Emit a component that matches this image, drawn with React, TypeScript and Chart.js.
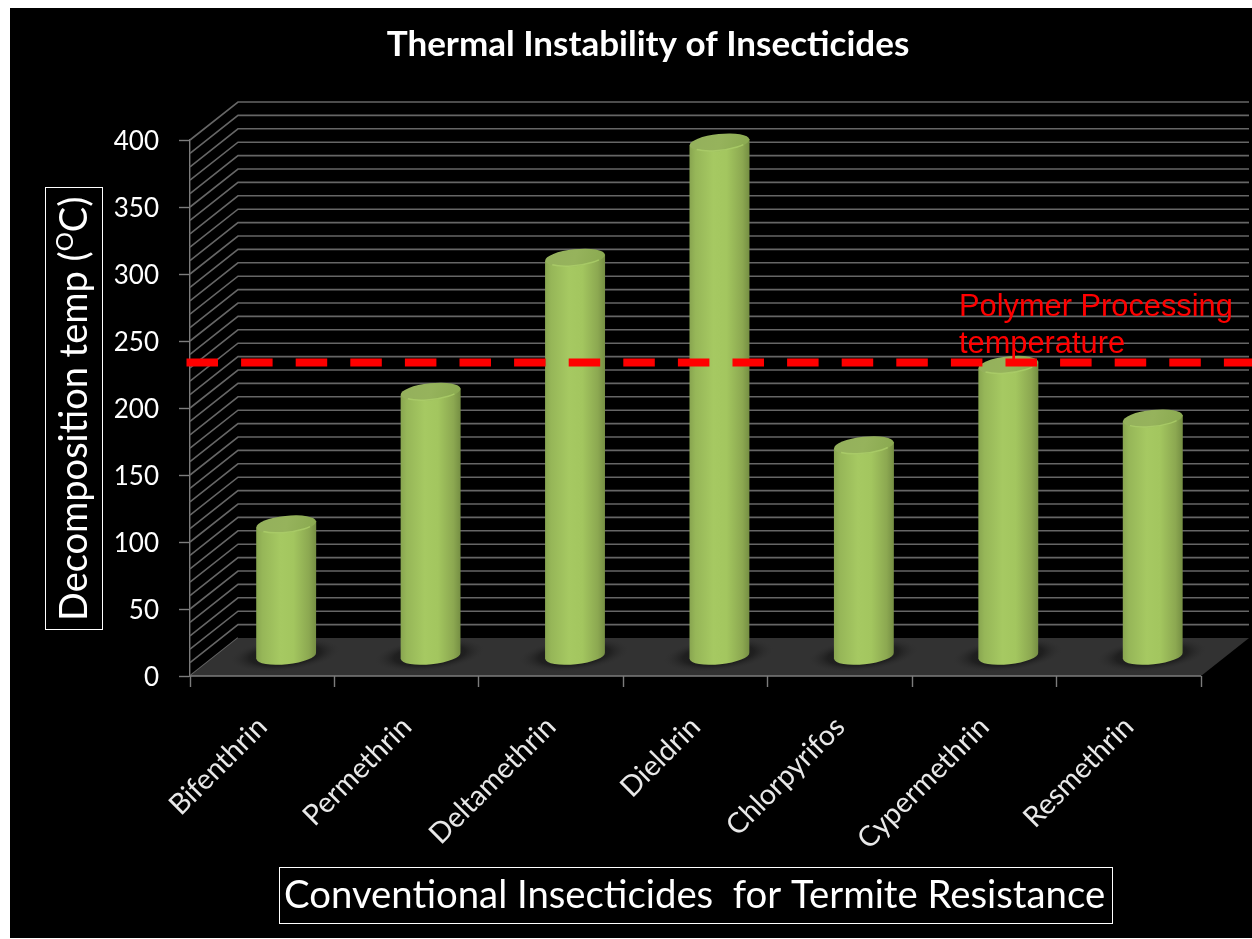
import React, { useEffect, useRef } from "react";
import { Chart, registerables } from "chart.js";

Chart.register(...registerables);

const categories = ["Bifenthrin", "Permethrin", "Deltamethrin", "Dieldrin", "Chlorpyrifos", "Cypermethrin", "Resmethrin"];
const decompositionTemps = [99, 198, 298, 384, 158, 218, 178];
const polymerTemp = 234;
const chartTitle = "Thermal Instability of Insecticides";
const yTitleParts = ["Decomposition temp (", "O", "C)"];
const xTitle = "Conventional Insecticides  for Termite Resistance";
const noteLines = ["Polymer Processing", "temperature"];

const DX = 48;
const DY = -38;
const GRID = "#666666";
const LATO = "Lato, sans-serif";

const wallsPlugin = {
  id: "walls",
  beforeDatasetsDraw(chart: any) {
    const { ctx, chartArea: a, scales } = chart;
    const y = scales.y;
    ctx.save();
    ctx.strokeStyle = GRID;
    ctx.lineWidth = 1.6;
    for (let v = 0; v <= 400; v += 10) {
      const p = y.getPixelForValue(v);
      ctx.beginPath();
      ctx.moveTo(a.left, p);
      ctx.lineTo(a.left + DX, p + DY);
      if (v > 0) ctx.lineTo(a.right + DX, p + DY);
      ctx.stroke();
    }
    // floor
    const b = y.getPixelForValue(0);
    ctx.fillStyle = "#323232";
    ctx.beginPath();
    ctx.moveTo(a.left, b);
    ctx.lineTo(a.right, b);
    ctx.lineTo(a.right + DX, b + DY);
    ctx.lineTo(a.left + DX, b + DY);
    ctx.closePath();
    ctx.fill();
    ctx.strokeStyle = "#7c7c7c";
    ctx.lineWidth = 1.6;
    ctx.beginPath();
    ctx.moveTo(a.left, b);
    ctx.lineTo(a.right, b);
    ctx.stroke();
    ctx.restore();
  },
};

const cylindersPlugin = {
  id: "cylinders",
  afterDatasetsDraw(chart: any) {
    const { ctx } = chart;
    const meta = chart.getDatasetMeta(0);
    const rot = -0.105;
    const ry = 8.5;
    ctx.save();
    meta.data.forEach((el: any) => {
      const cx = el.x + DX / 2;
      const top = el.y + DY / 2;
      const base = el.base + DY / 2 - 0.7;
      const rx = el.width / 2;
      const left = cx - rx;
      const right = cx + rx;
      const dy = Math.sin(rot) * rx;

      // soft shadow on the floor
      const sh = ctx.createRadialGradient(0, 0, 0, 0, 0, 1);
      sh.addColorStop(0, "rgba(12,12,12,0.95)");
      sh.addColorStop(0.65, "rgba(20,20,20,0.6)");
      sh.addColorStop(1, "rgba(45,45,45,0)");
      ctx.save();
      ctx.translate(cx - 1, base - 1);
      ctx.rotate(rot);
      ctx.scale(rx + 25, 16);
      ctx.fillStyle = sh;
      ctx.beginPath();
      ctx.arc(0, 0, 1, 0, Math.PI * 2);
      ctx.fill();
      ctx.restore();

      // body
      const g = ctx.createLinearGradient(left, 0, right, 0);
      g.addColorStop(0, "#88a550");
      g.addColorStop(0.1, "#96b658");
      g.addColorStop(0.4, "#a6c962");
      g.addColorStop(0.62, "#a3c65f");
      g.addColorStop(0.88, "#8ca851");
      g.addColorStop(1, "#758e43");
      ctx.fillStyle = g;
      ctx.beginPath();
      ctx.moveTo(left, top - dy);
      ctx.lineTo(left, base - dy);
      ctx.ellipse(cx, base, rx, ry, rot, Math.PI, 0, true);
      ctx.lineTo(right, top + dy);
      ctx.closePath();
      ctx.fill();

      // cap
      const c = ctx.createLinearGradient(left, top - ry, right, top + ry);
      c.addColorStop(0, "#94b05c");
      c.addColorStop(0.5, "#96b35c");
      c.addColorStop(1, "#89a84f");
      ctx.fillStyle = c;
      ctx.beginPath();
      ctx.ellipse(cx, top, rx, ry, rot, 0, Math.PI * 2);
      ctx.fill();

      // lighter rim along the front of the cap
      ctx.strokeStyle = "rgba(176,212,108,0.7)";
      ctx.lineWidth = 1.5;
      ctx.beginPath();
      ctx.ellipse(cx, top, rx - 1, ry - 0.5, rot, Math.PI * 0.8, Math.PI * 0.2, true);
      ctx.stroke();
    });
    ctx.restore();
  },
};

const overlaysPlugin = {
  id: "overlays",
  afterDraw(chart: any) {
    const { ctx, chartArea: a, scales, width } = chart;
    ctx.save();
    // polymer processing temperature line
    const py = scales.y.getPixelForValue(polymerTemp);
    ctx.strokeStyle = "#ff0000";
    ctx.lineWidth = 8;
    ctx.setLineDash([31.5, 23.1]);
    ctx.beginPath();
    ctx.moveTo(a.left - 3.5, py);
    ctx.lineTo(width, py);
    ctx.stroke();
    ctx.setLineDash([]);

    ctx.fillStyle = "#ff0000";
    ctx.textAlign = "left";
    ctx.textBaseline = "alphabetic";
    ctx.font = "30.8px 'Liberation Sans', Arial, sans-serif";
    ctx.fillText(noteLines[0], 959, 316);
    ctx.fillText(noteLines[1], 959, 353);

    // x title
    ctx.strokeStyle = "#ffffff";
    ctx.lineWidth = 1;
    ctx.strokeRect(279.5, 867.5, 833, 56);
    ctx.fillStyle = "#ffffff";
    ctx.font = `38.3px ${LATO}`;
    ctx.fillText(xTitle, 284, 908);

    // y title
    ctx.strokeRect(45.5, 187.5, 57, 442);
    ctx.save();
    ctx.translate(87, 621);
    ctx.rotate(-Math.PI / 2);
    let x = 0;
    ctx.font = `38px ${LATO}`;
    ctx.fillText(yTitleParts[0], x, 0);
    x += ctx.measureText(yTitleParts[0]).width;
    ctx.font = `24px ${LATO}`;
    ctx.fillText(yTitleParts[1], x, -14);
    x += ctx.measureText(yTitleParts[1]).width;
    ctx.font = `38px ${LATO}`;
    ctx.fillText(yTitleParts[2], x, 0);
    ctx.restore();
    ctx.restore();
  },
};

export default function App() {
  const ref = useRef<HTMLCanvasElement>(null);
  useEffect(() => {
    const chart = new Chart(ref.current!, {
      type: "bar",
      data: {
        labels: categories,
        datasets: [
          {
            label: "Decomposition temp",
            data: decompositionTemps,
            backgroundColor: "transparent",
            borderWidth: 0,
            barThickness: 60,
          },
        ],
      },
      options: {
        responsive: false,
        animation: false,
        devicePixelRatio: 1,
        layout: { padding: { left: 95, right: 51, top: 0, bottom: 0 } },
        plugins: {
          legend: { display: false },
          tooltip: { enabled: false },
          title: {
            display: true,
            text: chartTitle,
            color: "#ffffff",
            font: { family: LATO, size: 35, weight: "bold", lineHeight: 1.2 },
            padding: { top: 24, bottom: 74 },
          },
        },
        scales: {
          x: {
            grid: {
              offset: true,
              drawOnChartArea: false,
              tickLength: 11,
              tickColor: "#7c7c7c",
              tickWidth: 1.4,
            },
            border: { display: false },
            ticks: {
              color: "#e8e8e8",
              font: { family: LATO, size: 28.5 },
              minRotation: 45,
              maxRotation: 45,
              padding: 23,
              autoSkip: false,
            },
            afterFit(s: any) {
              s.height = 263;
            },
          },
          y: {
            min: 0,
            max: 400,
            grid: {
              drawOnChartArea: false,
              tickLength: 11,
              tickWidth: 1.4,
              tickColor: (c: any) => (c.tick && c.tick.value % 50 === 0 ? "#7c7c7c" : "transparent"),
            },
            border: { color: "#7c7c7c", width: 1.4 },
            ticks: {
              stepSize: 10,
              autoSkip: false,
              color: "#ffffff",
              font: { family: LATO, size: 26 },
              padding: 20,
              labelOffset: 2,
              callback: (v: any) => (v % 50 === 0 ? String(v) : ""),
            },
            afterFit(s: any) {
              s.width = 95;
            },
          },
        },
      },
      plugins: [wallsPlugin, cylindersPlugin, overlaysPlugin],
    } as any);
    return () => chart.destroy();
  }, []);

  return (
    <div style={{ position: "absolute", left: 0, top: 0, width: 1252, height: 939, background: "#ffffff", overflow: "hidden" }}>
      <div style={{ position: "absolute", left: 10, top: 8, right: 0, bottom: 1, background: "#000000" }} />
      <canvas ref={ref} width={1252} height={939} style={{ position: "absolute", left: 0, top: 0, display: "block" }} />
    </div>
  );
}
